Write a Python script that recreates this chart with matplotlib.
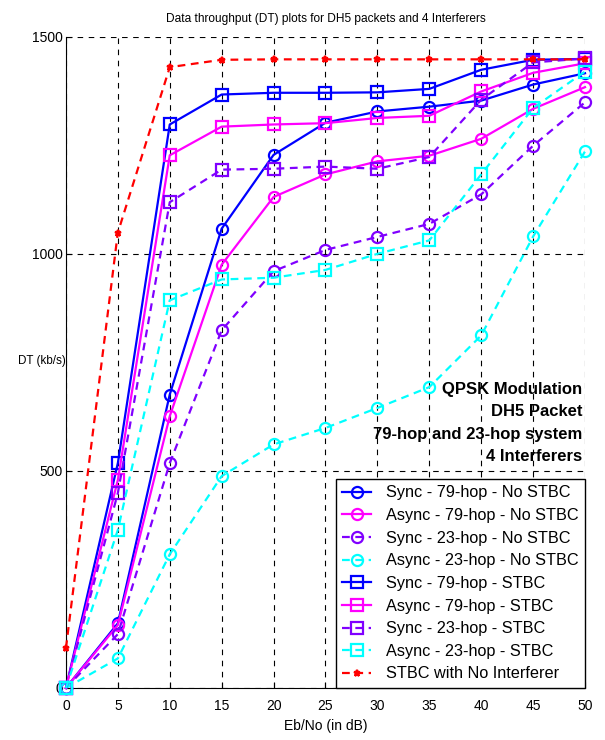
import numpy as np
import matplotlib
matplotlib.use("Agg")
import matplotlib.pyplot as plt

plt.rcParams['font.family'] = ['Liberation Sans', 'DejaVu Sans']

ebno = [0, 5, 10, 15, 20, 25, 30, 35, 40, 45, 50]

sync79_nostbc = [0, 149, 676, 1058, 1228, 1302, 1328, 1339, 1353, 1390, 1416]
async79_nostbc = [0, 145, 626, 975, 1131, 1183, 1213, 1226, 1265, 1334, 1384]
sync23_nostbc = [0, 124, 518, 824, 960, 1009, 1039, 1069, 1137, 1249, 1349]
async23_nostbc = [0, 68, 308, 488, 561, 599, 645, 693, 812, 1040, 1236]
sync79_stbc = [0, 518, 1298, 1367, 1371, 1371, 1372, 1380, 1424, 1447, 1449]
async79_stbc = [0, 479, 1227, 1293, 1298, 1301, 1313, 1318, 1374, 1417, 1439]
sync23_stbc = [0, 449, 1119, 1194, 1196, 1201, 1196, 1223, 1355, 1441, 1450]
async23_stbc = [0, 364, 893, 941, 945, 963, 1000, 1031, 1183, 1336, 1420]
no_interf = [92, 1049, 1430, 1447, 1448, 1448, 1448, 1448, 1448, 1448, 1448]

labels = ["Sync - 79-hop - No STBC", "Async - 79-hop - No STBC",
          "Sync - 23-hop - No STBC", "Async - 23-hop - No STBC",
          "Sync - 79-hop - STBC", "Async - 79-hop - STBC",
          "Sync - 23-hop - STBC", "Async - 23-hop - STBC",
          "STBC with No Interferer"]

blue = '#0000ff'
magenta = '#ff00ff'
purple = '#8000ff'
cyan = '#00ffff'
red = '#ff0000'

series = [
    (sync79_nostbc, blue, '-', 'o'),
    (async79_nostbc, magenta, '-', 'o'),
    (sync23_nostbc, purple, '--', 'o'),
    (async23_nostbc, cyan, '--', 'o'),
    (sync79_stbc, blue, '-', 's'),
    (async79_stbc, magenta, '-', 's'),
    (sync23_stbc, purple, '--', 's'),
    (async23_stbc, cyan, '--', 's'),
    (no_interf, red, '--', '*'),
]

fig = plt.figure(figsize=(6.05, 7.4), dpi=100)
ax = fig.add_axes([0.109, 0.0703, 0.858, 0.880])

for (vals, col, ls, mk), lab in zip(series, labels):
    ms = 5 if mk == '*' else 8
    ax.plot(ebno, vals, color=col, linestyle=ls, marker=mk, markersize=ms,
            markerfacecolor='none', markeredgecolor=col, markeredgewidth=1.6,
            linewidth=1.6, dashes=(3.5, 2.5) if ls == '--' else (None, None),
            label=lab, clip_on=False, zorder=3)

ax.set_xlim(0, 50)
ax.set_ylim(0, 1500)
ax.set_xticks(np.arange(0, 51, 5))
ax.set_yticks([0, 500, 1000, 1500])
ax.tick_params(direction='in', length=4, labelsize=10, top=False, right=False)
ax.tick_params(axis='x', pad=8)
ax.tick_params(axis='y', pad=2)
ax.grid(True, color='black', linestyle=(0, (5, 5)), linewidth=0.8)
ax.set_axisbelow(True)
for s in ['top', 'right']:
    ax.spines[s].set_visible(False)

ax.set_title("Data throughput (DT) plots for DH5 packets and 4 Interferers",
             fontsize=8.6, pad=11)
ax.set_xlabel("Eb/No (in dB)", fontsize=10, labelpad=4)
ax.set_ylabel("DT (kb/s)", fontsize=8.4, rotation=0, va='center', ha='center')
ax.yaxis.set_label_coords(-0.047, 0.502)

ax.text(0.995, 0.407, "QPSK Modulation\nDH5 Packet\n79-hop and 23-hop system\n4 Interferers",
        transform=ax.transAxes, ha='right', va='center', fontsize=12,
        fontweight='bold', linespacing=1.6, zorder=4)

leg = ax.legend(loc='lower right', fontsize=11.7, frameon=True, fancybox=False,
                edgecolor='black', framealpha=1, borderaxespad=0.0,
                handlelength=1.8, handletextpad=0.9, labelspacing=0.47,
                borderpad=0.4)
leg.get_frame().set_linewidth(1.0)
leg.set_zorder(5)

fig.savefig("out.png", dpi=100)
